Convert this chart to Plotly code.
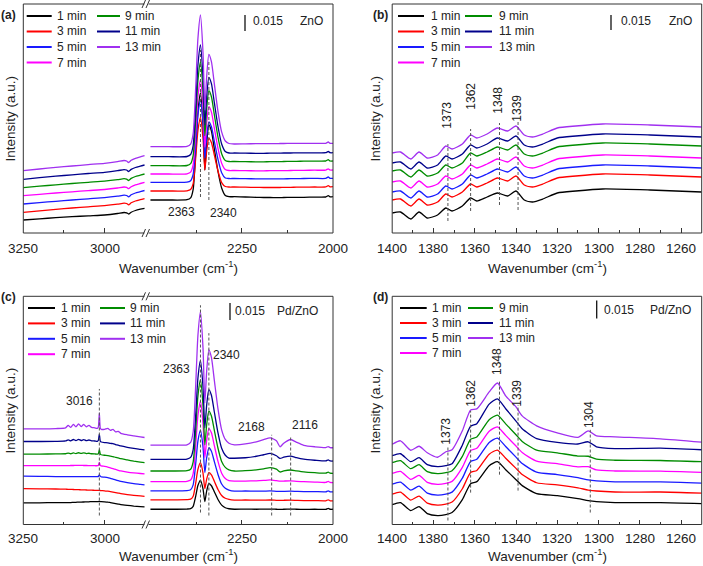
import plotly.graph_objects as go

W, H = 703, 566
FONT = "Liberation Sans, Arial, sans-serif"

TIMES = ["1 min", "3 min", "5 min", "7 min", "9 min", "11 min", "13 min"]
COLORS = ["#000000", "#ff0000", "#1a1aff", "#ff00ff", "#008c00", "#00008b", "#a030f0"]

# axis tick labels
TICKS_HI = [3250, 3000]            # left segment of broken axes
MINOR_HI = [3125]
TICKS_MID = [2250, 2000]           # right segment of broken axes
MINOR_MID = [2375, 2125]
TICKS_LOW = [1400, 1380, 1360, 1340, 1320, 1300, 1280, 1260]
MINOR_LOW = [1390, 1370, 1350, 1330, 1310, 1290, 1270, 1250]

# ---------------- panel (a) ZnO ----------------
A_LEFT_X = [3250, 3200, 3150, 3100, 3050, 3000, 2960, 2940, 2932, 2926, 2918, 2905, 2890, 2877]
A_LEFT_Y = [
    [13, 14.2, 15.3, 16.3, 17.2, 18, 19.5, 20.5, 20.2, 19, 20.8, 22.5, 23.8, 24.7],
    [20.7, 22.2, 23.6, 25, 26.2, 27.3, 28.8, 29.8, 29.5, 28.2, 30.2, 32, 33.3, 34.3],
    [29, 30.4, 31.7, 33, 34.2, 35.3, 36.8, 37.8, 37.5, 36.2, 38.2, 40, 41.3, 42.5],
    [37.3, 38.7, 40, 41.2, 42.4, 43.5, 45, 46, 45.6, 44.3, 46.3, 48.2, 49.5, 50.6],
    [45.3, 46.8, 48.2, 49.5, 50.7, 51.8, 53.3, 54.3, 53.9, 52.5, 54.6, 56.5, 57.8, 59],
    [53.7, 55.3, 56.8, 58.2, 59.5, 60.7, 62.3, 63.4, 63, 61.5, 63.6, 65.5, 66.9, 68],
    [62.3, 64, 65.6, 67, 68.4, 69.7, 71.4, 72.5, 72, 70.5, 72.7, 74.7, 76.2, 77.3],
]
A_RIGHT_X = [2500, 2450, 2400, 2390, 2383, 2376, 2370, 2363, 2356, 2351, 2346, 2340, 2333, 2325,
             2315, 2305, 2295, 2285, 2270, 2240, 2210, 2190, 2172, 2155, 2145, 2135, 2116, 2100,
             2080, 2050, 2020, 2013, 2008, 2000]
A_RIGHT_Y = [
    [33, 33, 33.3, 35.1, 43.7, 81.2, 120.7, 140, 109.2, 63, 90, 108, 102, 84, 61.5, 45,
     37.5, 36.3, 36.3, 36, 35.7, 35.5, 35.5, 35.4, 35.4, 35.5, 35.6, 35.6, 35.7, 35.9, 36, 37.3, 36.1, 36.3],
    [42, 42, 42.2, 43.5, 49.4, 75.2, 102.4, 115.7, 94.6, 63, 82, 94.7, 90.5, 77.8, 62, 50.4,
     46.5, 46, 46, 45.8, 45.6, 45.5, 45.5, 45.5, 45.5, 45.6, 45.7, 45.8, 45.9, 46, 46.1, 47.4, 46.2, 46.3],
    [50.7, 50.7, 50.9, 52.3, 58.9, 87.7, 118.2, 133, 109.7, 74.8, 96.5, 111, 106.2, 91.7, 73.6, 60.3,
     55, 54.5, 54.5, 54.3, 54.2, 54.1, 54.1, 54.1, 54.1, 54.2, 54.3, 54.4, 54.5, 54.6, 54.6, 56, 54.7, 54.7],
    [59, 59, 59.2, 60.9, 68.4, 101.3, 136.1, 153, 126.2, 86, 110.2, 126.3, 120.9, 104.8, 84.6, 69.8,
     63.5, 62.5, 62.5, 62.3, 62.2, 62.2, 62.3, 62.3, 62.3, 62.4, 62.5, 62.6, 62.7, 62.8, 62.9, 64.2, 63, 63],
    [67.3, 67.3, 67.5, 69.4, 77.7, 114, 152.3, 171, 141.5, 97.3, 124.3, 142.3, 136.3, 118.3, 95.8, 79.3,
     72.5, 71.5, 71.5, 71.3, 71.2, 71.2, 71.3, 71.3, 71.4, 71.5, 71.6, 71.7, 71.8, 71.9, 72, 73.3, 72, 72],
    [76.3, 76.3, 76.5, 78.5, 87.5, 126.6, 167.9, 188, 156, 108, 136.6, 155.7, 149.3, 130.3, 106.5, 89,
     81.5, 80, 80, 79.8, 79.7, 79.7, 79.8, 79.8, 79.9, 80, 80, 80.1, 80.1, 80.2, 80.3, 81.5, 80.3, 80.3],
    [86.3, 86.3, 86.6, 88.9, 99.5, 145.6, 194.3, 218, 180, 123, 156.4, 178.7, 171.3, 149.1, 121.4, 101.1,
     92, 89.5, 89, 89.2, 89.3, 89.3, 89.4, 89.4, 89.5, 89.5, 89.6, 89.6, 89.6, 89.7, 89.7, 91, 89.7, 89.7],
]
A_PEAKS = [2363, 2340]

# ---------------- panel (b) ZnO 1400-1250 ----------------
B_X = [1400, 1396, 1391, 1387, 1383, 1378, 1374, 1371, 1366, 1362, 1359, 1354, 1349, 1344, 1340,
       1336, 1332, 1327, 1320, 1311, 1298, 1275, 1250]
B_Y = [
    [20, 21, 14, 21, 15, 18, 25, 22, 27, 35, 32, 36, 40, 37, 42, 33, 31, 34, 40, 42, 44, 43, 41],
    [33, 34, 27, 34, 28, 31, 39, 36, 41, 49, 46, 50, 55, 52, 57, 48, 46, 49, 55, 57, 59, 58, 56],
    [41, 42, 35, 42, 36, 39, 47, 44, 49, 58, 55, 59, 64, 61, 66, 57, 55, 58, 64, 66, 68, 67, 65],
    [51, 52, 45, 52, 46, 49, 57, 54, 59, 68, 65, 69, 74, 71, 76, 67, 65, 68, 74, 76, 78, 77, 75],
    [62, 63, 56, 63, 57, 60, 68, 65, 70, 80, 77, 81, 86, 83, 88, 79, 77, 80, 86, 88, 90, 89, 87],
    [70, 71, 64, 71, 65, 68, 77, 74, 79, 88, 85, 89, 95, 92, 97, 88, 86, 89, 95, 97, 99, 98, 96],
    [80, 81, 74, 81, 75, 78, 87, 84, 89, 98, 95, 99, 105, 102, 107, 98, 96, 99, 105, 107, 109, 108, 106],
]
B_PEAKS = [1373, 1362, 1348, 1339]

# ---------------- panel (c) Pd/ZnO ----------------
C_LEFT_X = [3250, 3200, 3150, 3120, 3112, 3104, 3096, 3088, 3080, 3072, 3064, 3056, 3048, 3040, 3030,
            3022, 3019, 3016, 3013, 3010, 3000, 2990, 2982, 2974, 2966, 2958, 2950, 2930, 2910, 2890, 2877]
C_LEFT_Y = [
    [21.7, 21.8, 22, 22, 22, 22, 22.2, 22.3, 22.5, 22.5, 22.6, 22.7, 22.8, 23, 23, 23, 23, 23.2, 23, 23,
     22.8, 22.5, 22, 21.5, 21, 20.5, 20, 19.2, 18.5, 18, 17.7],
    [36, 35.8, 35.6, 35.4, 35.3, 35.2, 35.1, 35, 34.9, 34.8, 34.7, 34.6, 34.5, 34.4, 34.3, 34.2, 34.2, 34.2,
     34.1, 34, 33.8, 33.4, 33, 32.5, 32, 31.5, 31, 30, 29.3, 28.7, 28.3],
    [48.5, 48.3, 48.1, 48, 48, 48, 48, 48, 48, 48, 48, 48, 48, 48, 48, 48, 48.3, 49.8, 48.3, 47.8,
     47.5, 47, 46.3, 45.6, 44.8, 44, 43.3, 42, 41, 40.3, 39.8],
    [59, 59, 59, 59, 59, 59.2, 59.2, 59.3, 59.3, 59.3, 59.2, 59.2, 59.1, 59, 59, 59, 59.5, 62.3, 59.3, 58.8,
     58.3, 57.6, 56.8, 56, 55.2, 54.4, 53.7, 52.6, 51.8, 51.2, 50.8],
    [70.7, 70.7, 70.8, 71, 71.6, 71, 71.8, 71.2, 72, 71.3, 71.9, 71.2, 71.5, 71, 70.8, 70.7, 71.2, 75, 70.6, 70,
     69.5, 69.2, 68.6, 68.2, 67.3, 66.8, 66, 64.8, 63.6, 62.6, 62],
    [83.3, 83.3, 83.4, 83.8, 85, 84, 85.3, 84.2, 85.5, 84.3, 85.2, 84.2, 84.8, 84, 83.8, 83.5, 84.5, 90.7, 83.5,
     82.8, 82.2, 82, 81.3, 81.2, 80.2, 79.6, 78.8, 77.4, 76.3, 75.4, 74.8],
    [96, 96, 96.3, 97, 99.5, 97.5, 100.5, 98, 101, 98.3, 100.5, 98, 99.5, 97.5, 97, 96.5, 98, 111.7, 96.5,
     95.5, 95.5, 96.5, 94.5, 95.5, 93, 93.5, 91.5, 90, 89, 88, 87.3],
]
C_RIGHT_X = A_RIGHT_X
C_RIGHT_Y = [
    [15.3, 15.3, 15.5, 15.9, 18.2, 28.4, 39.1, 44.3, 35.8, 23, 33.8, 41, 38.9, 32.8, 25.1, 19.4,
     16.8, 15.8, 15.3, 15.5, 15.3, 15.4, 15.5, 15.3, 15.2, 15.3, 15.4, 15.3, 15.2, 15.3, 15.2, 16.2, 15.3, 15.3],
    [24.7, 24.7, 24.9, 25.4, 28.4, 41.5, 55.3, 62, 51.6, 36, 45.6, 52, 49.8, 43.3, 35.1, 29.1,
     26.3, 25.2, 24.5, 24.6, 24.4, 24.5, 24.6, 24.3, 24.2, 24.3, 24.4, 24.2, 24, 24, 23.8, 24.8, 23.8, 23.7],
    [33.7, 33.7, 34, 34.9, 39.8, 61.2, 83.7, 94.7, 77.6, 52, 67, 77, 73.5, 63.1, 50.2, 40.6,
     36.3, 34.6, 33.5, 33.6, 33.4, 33.5, 33.7, 33.3, 33.2, 33.3, 33.4, 33.2, 33, 33, 32.8, 33.8, 32.8, 32.7],
    [43, 43, 43.3, 44.6, 51.1, 79.3, 109.2, 123.7, 101, 67, 84.6, 96.3, 92, 79.2, 63.3, 51.5,
     46.2, 44.1, 43.5, 43.6, 43.8, 44.2, 44.7, 44, 43.5, 43.6, 43.7, 43.3, 43, 42.6, 42.2, 43.2, 42.2, 42],
    [53.7, 53.7, 54, 55.5, 62.9, 94.9, 128.8, 145.3, 119.2, 80, 100.2, 113.7, 108.9, 94.5, 76.5, 63.3,
     57.3, 54.9, 53.7, 54, 54.8, 55.8, 57, 55.5, 52.7, 53.8, 54.7, 53.8, 52.8, 52, 51.5, 52.5, 51.5, 51.3],
    [65.3, 65.3, 65.6, 67.3, 75.2, 110, 146.8, 164.7, 137.6, 97, 120, 135.3, 129.7, 112.9, 91.9, 76.5,
     69.5, 66.7, 66.5, 67, 68.5, 70, 71.3, 69, 66.3, 67.5, 68.7, 67, 65.5, 64.5, 63.8, 64.8, 63.8, 63.7],
    [79.7, 79.7, 80, 82.4, 93.1, 140, 189.6, 213.7, 177, 122, 154, 175.3, 167.7, 144.7, 116, 95,
     85.4, 81.6, 80, 80.8, 83, 85.2, 87, 84, 78, 81.5, 85.3, 82.5, 79.5, 78, 77.2, 78.2, 77.2, 77],
]
C_LEFT_PEAKS = [3016]
C_RIGHT_PEAKS = [2363, 2340, 2168, 2116]

# ---------------- panel (d) Pd/ZnO 1400-1250 ----------------
D_X = [1400, 1396, 1391, 1387, 1383, 1378, 1374, 1371, 1366, 1362, 1359, 1353, 1349, 1345, 1340,
       1337, 1330, 1320, 1310, 1305, 1301, 1292, 1270, 1250]
D_Y = [
    [20, 22, 14, 18, 11, 9, 10, 12, 25, 41, 43, 59, 63, 55, 45, 39, 31, 29, 26, 24, 23, 22, 22, 21],
    [30.5, 32.5, 24.5, 28.5, 21.5, 19.5, 20.5, 22.5, 35.9, 52.2, 54.2, 70.6, 74.7, 66.5, 56.3, 50.1, 41.9,
     39.7, 36.7, 34.6, 33.6, 32.6, 32.6, 31.5],
    [40.5, 42.5, 34.5, 38.5, 31.5, 29.5, 30.5, 32.5, 46.5, 63.3, 65.4, 82.4, 86.7, 78.2, 67.6, 61.1, 52.6,
     50.1, 47, 44.8, 43.8, 42.8, 42.7, 41.5],
    [51.3, 53.3, 45.3, 49.3, 42.3, 40.3, 41.3, 43.3, 57.4, 74.3, 76.5, 93.6, 98, 89.4, 78.7, 72.2, 63.6,
     61, 57.9, 58, 54.7, 53.7, 53.5, 52.3],
    [62, 64, 56, 60, 53, 51, 52, 54, 68.4, 85.6, 87.8, 105.2, 109.7, 101, 90.1, 83.4, 74.6, 71.9, 68.7,
     68.5, 65.5, 64.5, 64.2, 63],
    [69, 71, 63, 67, 60, 58, 59, 61, 79.6, 98.6, 101.2, 120.8, 126, 116.2, 103.8, 96, 86.2, 82.4, 80.8,
     83, 78, 76.2, 76.6, 75],
    [80.5, 84, 74.5, 78.5, 72, 67.5, 73, 75, 94, 115, 116, 133, 142, 129, 118, 109, 99, 92, 87.5, 94, 89,
     88, 86, 82.7],
]
D_PEAKS = [1373, 1362, 1348, 1339, 1304]

# legend layout: column 1 = 1,3,5,7 min ; column 2 = 9,11,13 min
LEG_COL = [0, 0, 0, 0, 1, 1, 1]
LEG_ROW = [0, 1, 2, 3, 0, 1, 2]


def px(x):
    return x / W


def py(y):
    return 1 - y / H


# panel geometry (pixels)
AX_L, AX_BRK_L, AX_BRK_R, AX_R = 23.3, 146.0, 149.0, 333.0
BX_L, BX_R = 392.2, 701.7
TOP1, BOT1 = 4.0, 233.0
TOP2, BOT2 = 296.3, 524.5
YMAX = 229

fig = go.Figure()


def add_traces(xv, ys, xa, ya):
    for i, (name, col) in enumerate(zip(TIMES, COLORS)):
        fig.add_trace(go.Scatter(
            x=xv, y=ys[i], xaxis=xa, yaxis=ya, mode="lines", name=name,
            line=dict(color=col, width=1.3, shape="spline", smoothing=0.6),
            showlegend=False, hoverinfo="skip"))


add_traces(A_LEFT_X, A_LEFT_Y, "x", "y")
add_traces(A_RIGHT_X, A_RIGHT_Y, "x2", "y")
add_traces(B_X, B_Y, "x3", "y2")
add_traces(C_LEFT_X, C_LEFT_Y, "x4", "y3")
add_traces(C_RIGHT_X, C_RIGHT_Y, "x5", "y3")
add_traces(D_X, D_Y, "x6", "y4")


def xax(dom, rng, tv, minor_tv, anchor):
    return dict(domain=[px(dom[0]), px(dom[1])], range=rng, anchor=anchor,
                tickmode="array", tickvals=tv, showticklabels=False,
                ticks="inside", ticklen=5, tickwidth=1, tickcolor="#333",
                minor=dict(tickvals=minor_tv, ticks="inside", ticklen=3, tickwidth=1, tickcolor="#333"),
                showline=False, showgrid=False, zeroline=False)


def yax(top, bot, anchor):
    return dict(domain=[py(bot), py(top)], range=[0, YMAX], anchor=anchor, showticklabels=False,
                ticks="", showgrid=False, zeroline=False, showline=False)


left_rng = [3250, 3250 - (AX_BRK_L - AX_L) / 0.325]
right_rng = [2250 + (241.7 - AX_BRK_R) / 0.365, 2000]

fig.update_layout(
    xaxis=xax((AX_L, AX_BRK_L), left_rng, TICKS_HI, MINOR_HI, "y"),
    xaxis2=xax((AX_BRK_R, AX_R), right_rng, TICKS_MID, MINOR_MID, "y"),
    xaxis3=xax((BX_L, BX_R), [1400, 1250], TICKS_LOW, MINOR_LOW, "y2"),
    xaxis4=xax((AX_L, AX_BRK_L), left_rng, TICKS_HI, MINOR_HI, "y3"),
    xaxis5=xax((AX_BRK_R, AX_R), right_rng, TICKS_MID, MINOR_MID, "y3"),
    xaxis6=xax((BX_L, BX_R), [1400, 1250], TICKS_LOW, MINOR_LOW, "y4"),
    yaxis=yax(TOP1, BOT1, "x"),
    yaxis2=yax(TOP1, BOT1, "x3"),
    yaxis3=yax(TOP2, BOT2, "x4"),
    yaxis4=yax(TOP2, BOT2, "x6"),
)

shapes = []
ann = []
FRAME = dict(color="#333", width=1)


def pline(x0, y0, x1, y1, line=FRAME):
    shapes.append(dict(type="line", xref="paper", yref="paper", x0=px(x0), y0=py(y0),
                       x1=px(x1), y1=py(y1), line=line))


# frames
for top, bot in [(TOP1, BOT1), (TOP2, BOT2)]:
    pline(AX_L, top, AX_L, bot)
    pline(AX_R, top, AX_R, bot)
    for yy in (top, bot):
        pline(AX_L, yy, 144.5, yy)
        pline(148.5, yy, AX_R, yy)
        pline(142.0, yy + 4, 145.5, yy - 4)
        pline(146.0, yy + 4, 149.5, yy - 4)
    shapes.append(dict(type="rect", xref="paper", yref="paper", x0=px(BX_L), x1=px(BX_R),
                       y0=py(bot), y1=py(top), line=FRAME))

DASH = dict(color="#555", width=1, dash="3px,2px")


def vdash(xref, yref, xv, y0, y1):
    shapes.append(dict(type="line", xref=xref, yref=yref, x0=xv, x1=xv, y0=y0, y1=y1, line=DASH))


vdash("x2", "y", A_PEAKS[0], 36, 183)
vdash("x2", "y", A_PEAKS[1], 33, 173)
for xv, (a, b) in zip(B_PEAKS, [(12, 89), (22, 104), (28, 110), (23, 112)]):
    vdash("x3", "y2", xv, a, b)
vdash("x4", "y3", C_LEFT_PEAKS[0], 9, 136)
for xv, (a, b) in zip(C_RIGHT_PEAKS, [(12, 220), (9, 192), (9, 90), (9, 89)]):
    vdash("x5", "y3", xv, a, b)
for xv, (a, b) in zip(D_PEAKS, [(4, 79), (32, 114), (50, 145), (34, 120), (12, 95)]):
    vdash("x6", "y4", xv, a, b)

# scale bars
BAR = dict(color="#111", width=1.3)
for x0, y0, y1 in [(245, 15, 31), (611, 15, 30), (230, 303, 320), (596.7, 300.5, 318.5)]:
    pline(x0, y0, x0, y1, line=BAR)

afont = dict(family=FONT, size=12, color="#222")


def text(x, y, s, angle=0, anchor="center", size=12, bold=False, xref="paper"):
    f = dict(afont)
    f["size"] = size
    ann.append(dict(xref=xref, yref="paper", x=(px(x) if xref == "paper" else x), y=py(y),
                    text=("<b>%s</b>" % s if bold else s),
                    showarrow=False, xanchor=anchor, yanchor="middle", textangle=angle, font=f))


# tick labels (placed on the axes' own data coordinates)
TLAB = 13.5
for yl, axes in [(248.0, [("x", TICKS_HI), ("x2", TICKS_MID), ("x3", TICKS_LOW)]),
                 (538.0, [("x4", TICKS_HI), ("x5", TICKS_MID), ("x6", TICKS_LOW)])]:
    for xr, tv in axes:
        for v in tv:
            text(v, yl, str(v), size=TLAB, xref=xr)

# hand-placed two-column legends (one per panel)
LEG_GEOM = [
    # (col1 (line x0, x1, text x), col2 (line x0, x1, text x), first row y, row pitch)
    ((26.7, 51.7, 55.0), (97.0, 120.0, 123.0), 16.0, 15.5),
    ((398.0, 424.0, 429.0), (465.0, 492.0, 496.7), 16.0, 15.5),
    ((28.0, 55.0, 59.0), (100.0, 125.0, 128.0), 308.0, 15.4),
    ((400.0, 426.7, 430.0), (468.0, 493.0, 497.3), 308.0, 15.0),
]
for c1, c2, y0, pitch in LEG_GEOM:
    cols = (c1, c2)
    for i, (name, col) in enumerate(zip(TIMES, COLORS)):
        lx0, lx1, tx = cols[LEG_COL[i]]
        yy = y0 + pitch * LEG_ROW[i]
        pline(lx0, yy, lx1, yy, line=dict(color=col, width=2))
        text(tx, yy, name, anchor="left")

# scale bar labels & sample names
text(250.5, 21, "0.015", anchor="left")
text(297.5, 21, "ZnO", anchor="left")
text(619, 21, "0.015", anchor="left")
text(666.5, 21, "ZnO", anchor="left")
text(232.5, 311, "0.015", anchor="left")
text(275, 311, "Pd/ZnO", anchor="left")
text(601.5, 309.5, "0.015", anchor="left")
text(647.5, 309.5, "Pd/ZnO", anchor="left")

# peak labels
text(181.7, 211.7, "2363")
text(223, 212.7, "2340")
for xv, yv, s in [(446.7, 115, "1373"), (470.7, 96, "1362"), (497.7, 100, "1348"), (516.7, 108, "1339")]:
    text(xv, yv, s, angle=-90)
text(79, 401.3, "3016")
text(176.7, 369, "2363")
text(226.7, 354.7, "2340")
text(251.7, 427, "2168")
text(305, 424.7, "2116")
for xv, yv, s in [(445.7, 431, "1373"), (470.7, 393, "1362"), (497.7, 361.3, "1348"),
                  (516.7, 393, "1339"), (588.3, 414.7, "1304")]:
    text(xv, yv, s, angle=-90)

# panel letters
text(8, 15, "(a)", bold=True)
text(380, 15, "(b)", bold=True)
text(8, 297, "(c)", bold=True)
text(380, 297, "(d)", bold=True)

# axis titles
xt = "Wavenumber (cm<sup>-1</sup>)"
tfont = 13.5
text(178, 267, xt, size=tfont)
text(547, 267, xt, size=tfont)
text(178, 555, xt, size=tfont)
text(547, 555, xt, size=tfont)
yt = "Intensity (a.u.)"
text(10, 118.5, yt, angle=-90, size=tfont)
text(375, 118.5, yt, angle=-90, size=tfont)
text(10, 410.4, yt, angle=-90, size=tfont)
text(375, 410.4, yt, angle=-90, size=tfont)

fig.update_layout(
    width=W, height=H, margin=dict(l=0, r=0, t=0, b=0),
    paper_bgcolor="white", plot_bgcolor="white",
    shapes=shapes, annotations=ann, font=dict(family=FONT), showlegend=False,
)

# remove the browser's default page margin so the figure sits at the window origin
fig.write_html("out.html",
               config={"displayModeBar": False, "staticPlot": True},
               post_script="document.body.style.margin='0';document.body.style.padding='0';"
                           "document.documentElement.style.overflow='hidden';")
